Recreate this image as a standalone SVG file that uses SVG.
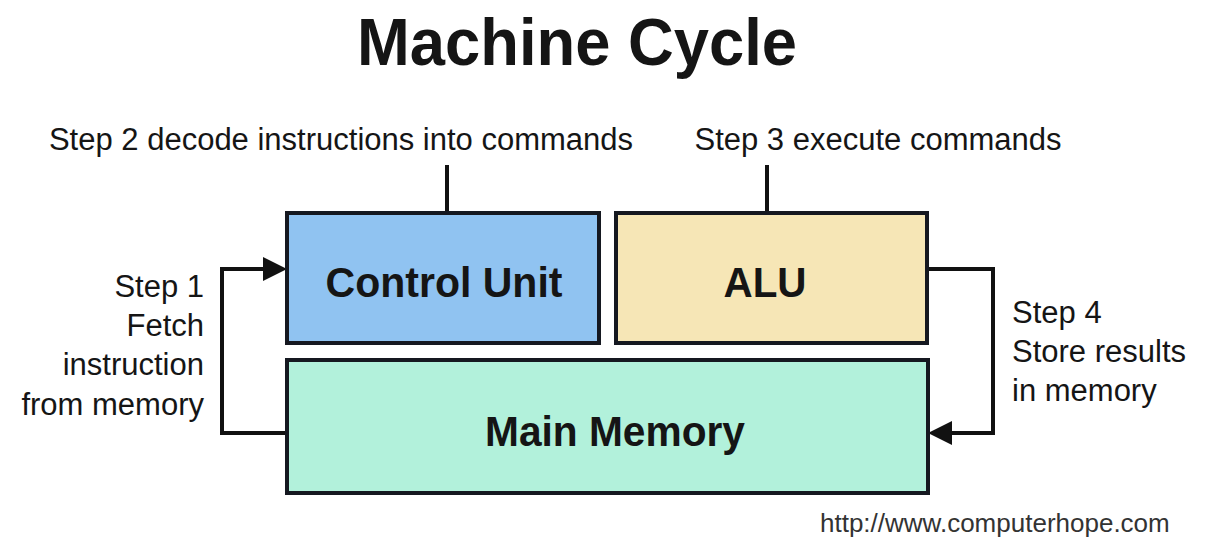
<svg xmlns="http://www.w3.org/2000/svg" width="1212" height="542" viewBox="0 0 1212 542">
<style>
text{font-family:"Liberation Sans",Arial,sans-serif;fill:#151515}
.box{stroke:#151820;stroke-width:4}
.lbl{font-size:31px}
.bold{font-weight:bold;font-size:43px}
.conn{fill:none;stroke:#111;stroke-width:4}
</style>
<defs>
<marker id="ah" markerWidth="6" markerHeight="6" refX="5" refY="3" orient="auto" markerUnits="strokeWidth">
<path d="M0,0 L6,3 L0,6 Z" fill="#111"/>
</marker>
</defs>
<rect width="1212" height="542" fill="#fff"/>
<text x="577" y="65" font-size="67" font-weight="bold" text-anchor="middle" textLength="440" lengthAdjust="spacingAndGlyphs">Machine Cycle</text>
<g id="connectors">
<path class="conn" d="M447,165 V213"/>
<path class="conn" d="M767,165 V213"/>
<path class="conn" d="M287,433 H222 V269 H283" marker-end="url(#ah)"/>
<path class="conn" d="M927,269 H993 V433 H932" marker-end="url(#ah)"/>
</g>
<g id="control-unit">
<rect class="box" x="287" y="213" width="312" height="130" fill="#90c3f1"/>
<text class="bold" x="444" y="297" text-anchor="middle" textLength="237" lengthAdjust="spacingAndGlyphs">Control Unit</text>
</g>
<g id="alu">
<rect class="box" x="616" y="213" width="311" height="130" fill="#f6e6b6"/>
<text class="bold" x="765" y="297" text-anchor="middle" textLength="83" lengthAdjust="spacingAndGlyphs">ALU</text>
</g>
<g id="main-memory">
<rect class="box" x="287" y="360" width="641" height="133" fill="#b2f1db"/>
<text class="bold" x="615" y="446" text-anchor="middle" textLength="260" lengthAdjust="spacingAndGlyphs">Main Memory</text>
</g>
<g id="labels">
<text class="lbl" x="341" y="150" text-anchor="middle">Step 2 decode instructions into commands</text>
<text class="lbl" x="878" y="150" text-anchor="middle">Step 3 execute commands</text>
<text class="lbl" x="204" text-anchor="end" font-size="30"><tspan x="204" y="297">Step 1</tspan><tspan x="204" y="336">Fetch</tspan><tspan x="204" y="375">instruction</tspan><tspan x="204" y="415">from memory</tspan></text>
<text class="lbl" x="1012"><tspan x="1012" y="323">Step 4</tspan><tspan x="1012" y="362">Store results</tspan><tspan x="1012" y="401">in memory</tspan></text>
<text x="820" y="532" font-size="26" fill="#333" style="fill:#333">http://www.computerhope.com</text>
</g>
</svg>
